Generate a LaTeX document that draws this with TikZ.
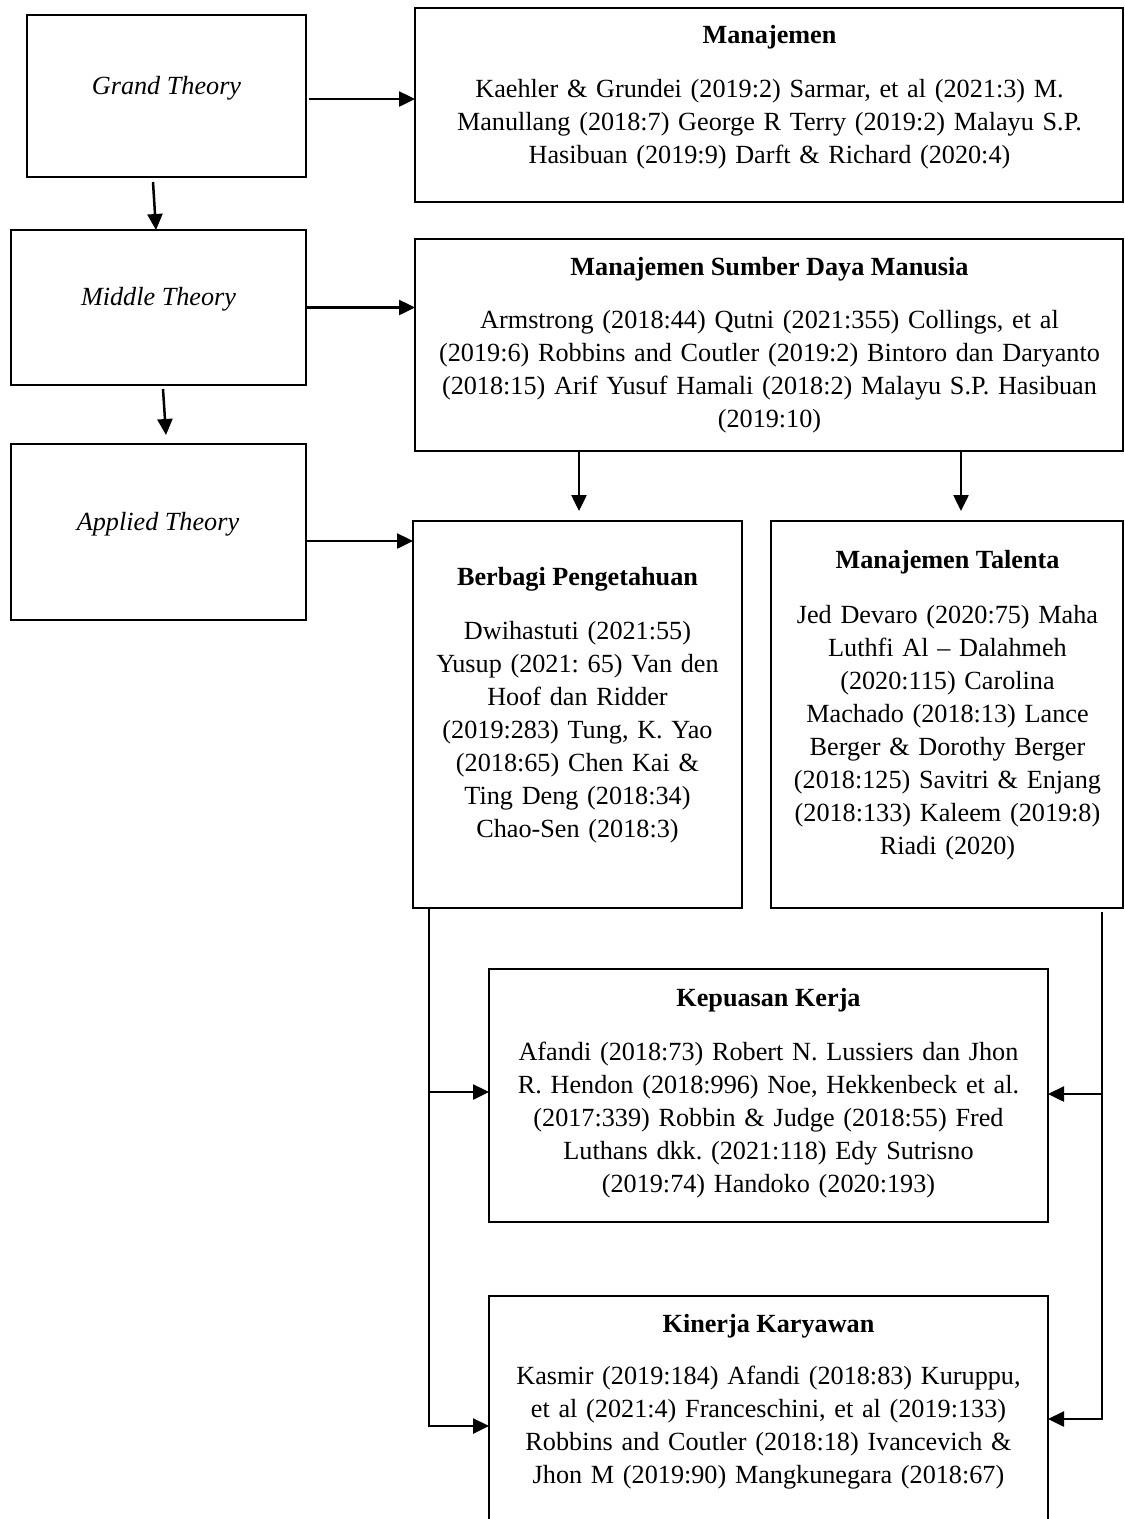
\documentclass[tikz,border=0pt]{standalone}
\usepackage{fontspec}
\setmainfont{Liberation Serif}
\usetikzlibrary{arrows.meta,calc}
\newcommand\diagsize{\fontsize{26.2}{33}\selectfont\frenchspacing}
\begin{document}
\begin{tikzpicture}[x=1pt,y=-1pt,
  box/.style={draw,line width=2.9pt,rectangle,inner sep=0pt,outer sep=0pt},
  ttl/.style={anchor=base,inner sep=0pt,font=\diagsize\bfseries},
  lvl/.style={anchor=base,inner sep=0pt,font=\diagsize\itshape},
  bodytxt/.style={anchor=base,inner sep=0pt,align=center,font=\diagsize},
  conn/.style={line width=2.5pt},
  arr/.style={conn,-{Triangle[length=16pt,width=15pt]}}
]
\useasboundingbox[fill=white] (0,0) rectangle (1125,1519);
\clip (0,0) rectangle (1125,1519);

% left column
\node[box,minimum width=279,minimum height=162] (grand) at (166.5,96) {};
\node[box,minimum width=295,minimum height=155] (middle) at (158.5,307.5) {};
\node[box,minimum width=295,minimum height=176] (applied) at (158.5,532) {};
\node[lvl] (tgrand) at (166.5,94) {Grand Theory};
\node[lvl] (tmiddle) at (158.5,305) {Middle Theory};
\node[lvl] (tapplied) at (158,530) {Applied Theory};

% right boxes
\node[box,minimum width=708,minimum height=194] (manaj) at (769,105) {};
\node[box,minimum width=708,minimum height=212] (msdm) at (769,345) {};
\node[box,minimum width=329,minimum height=387] (berbagi) at (577.5,714.5) {};
\node[box,minimum width=352,minimum height=387] (talenta) at (947,714.5) {};
\node[box,minimum width=559,minimum height=253] (kepuasan) at (768.5,1095.5) {};
\node[box,minimum width=559,minimum height=264] (kinerja) at (768.5,1428) {};

% texts
\node[ttl] (hmanaj) at (769.5,43) {Manajemen};
\node[bodytxt,text width=700] (bmanaj) at (769.5,97) {Kaehler \& Grundei (2019:2) Sarmar, et al (2021:3) M.\\
Manullang (2018:7) George R Terry (2019:2) Malayu S.P.\\
Hasibuan (2019:9) Darft \& Richard (2020:4)};

\node[ttl] (hmsdm) at (769.5,275) {Manajemen Sumber Daya Manusia};
\node[bodytxt,text width=700] (bmsdm) at (769.5,328.5) {Armstrong (2018:44) Qutni (2021:355) Collings, et al\\
(2019:6) Robbins and Coutler (2019:2) Bintoro dan Daryanto\\
(2018:15) Arif Yusuf Hamali (2018:2) Malayu S.P. Hasibuan\\
(2019:10)};

\node[ttl] (hberbagi) at (577.5,585) {Berbagi Pengetahuan};
\node[bodytxt,text width=325] (bberbagi) at (577.5,639) {Dwihastuti (2021:55)\\
Yusup (2021: 65) Van den\\
Hoof dan Ridder\\
(2019:283) Tung, K. Yao\\
(2018:65) Chen Kai \&\\
Ting Deng (2018:34)\\
Chao-Sen (2018:3)};

\node[ttl] (htalenta) at (947.5,568) {Manajemen Talenta};
\node[bodytxt,text width=345] (btalenta) at (947.5,623) {Jed Devaro (2020:75) Maha\\
Luthfi Al – Dalahmeh\\
(2020:115) Carolina\\
Machado (2018:13) Lance\\
Berger \& Dorothy Berger\\
(2018:125) Savitri \& Enjang\\
(2018:133) Kaleem (2019:8)\\
Riadi (2020)};

\node[ttl] (hkepuasan) at (768.5,1006) {Kepuasan Kerja};
\node[bodytxt,text width=550] (bkepuasan) at (768.5,1060) {Afandi (2018:73) Robert N. Lussiers dan Jhon\\
R. Hendon (2018:996) Noe, Hekkenbeck et al.\\
(2017:339) Robbin \& Judge (2018:55) Fred\\
Luthans dkk. (2021:118) Edy Sutrisno\\
(2019:74) Handoko (2020:193)};

\node[ttl] (hkinerja) at (768.5,1332) {Kinerja Karyawan};
\node[bodytxt,text width=550] (bkinerja) at (768.5,1384) {Kasmir (2019:184) Afandi (2018:83) Kuruppu,\\
et al (2021:4) Franceschini, et al (2019:133)\\
Robbins and Coutler (2018:18) Ivancevich \&\\
Jhon M (2019:90) Mangkunegara (2018:67)};

% connectors
\draw[arr] ($(grand.east |- 0,99)+(3,0)$) -- (manaj.west |- 0,99);
\draw[arr] ($(grand.south)+(-13.5,5)$) -- ($(middle.north)+(-2.5,0)$);
\draw[arr] ($(middle.east)+(1,0)$) -- (msdm.west |- middle.east);
\draw[arr] ($(middle.south)+(4.5,4)$) -- ($(applied.north)+(7.5,-9)$);
\draw[arr] (applied.east |- 0,541) -- (berbagi.west |- 0,541);
\draw[arr] ($(msdm.south -| berbagi.north)+(1.5,0)$) -- ($(berbagi.north)+(1.5,-10)$);
\draw[arr] ($(msdm.south -| talenta.north)+(14,0)$) -- ($(talenta.north)+(14,-10)$);

\coordinate (lj) at ($(berbagi.south west)+(16,0)$);
\draw[arr] (lj) |- (kinerja.west |- 0,1426);
\draw[arr] (lj |- 0,1092) -- (kepuasan.west |- 0,1092);

\coordinate (rj) at ($(talenta.south east)+(-21,4)$);
\draw[arr] (rj) |- (kinerja.east |- 0,1419);
\draw[arr] (rj |- 0,1094) -- (kepuasan.east |- 0,1094);
\end{tikzpicture}
\end{document}
